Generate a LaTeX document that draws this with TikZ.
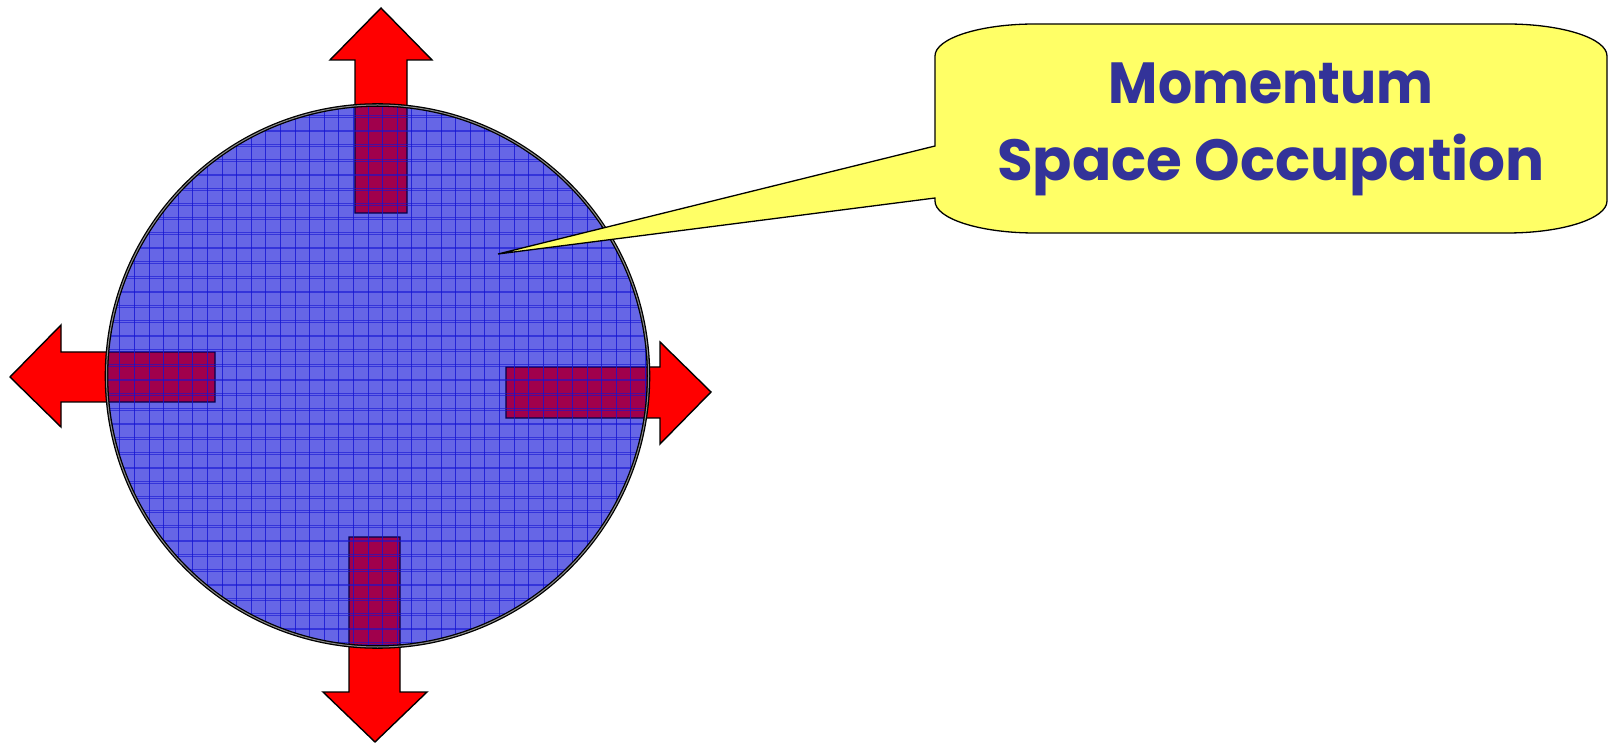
\documentclass[tikz,border=0pt]{standalone}
\usepackage{fontspec}
\newfontfamily\callfont{Poppins}
\definecolor{discblue}{RGB}{102,102,230}
\definecolor{gridblue}{RGB}{20,20,210}
\definecolor{overlap}{RGB}{160,0,76}
\definecolor{calloutyellow}{RGB}{255,255,102}
\definecolor{textblue}{RGB}{51,51,153}
\tikzset{
  arrowshape/.style={fill=red, draw=black, line width=1.4pt, line join=miter},
  overlapshape/.style={fill=overlap, draw=black!70!blue, line width=1.4pt},
  gridline/.style={draw=gridblue, line width=0.7pt, opacity=0.8},
  gridlinelight/.style={draw=gridblue, line width=0.55pt, opacity=0.6},
  discborder/.style={draw=black, line width=1.3pt, double=black!45, double distance=1pt},
  calloutshape/.style={fill=calloutyellow, draw=black, line width=1.3pt, line join=miter},
  callouttext/.style={text=textblue, font=\callfont\bfseries\fontsize{58}{77}\selectfont, align=center},
}
\begin{document}
\begin{tikzpicture}[x=1pt,y=1pt]
\useasboundingbox (0,0) rectangle (1617,745);
% arrows
\def\arrowup{(355,532) -- (355,685) -- (330,685) -- (381,737) -- (432,685) -- (407,685) -- (407,532) -- cycle}
\def\arrowdown{(349,208) -- (349,53) -- (323,53) -- (375,3) -- (427,53) -- (400,53) -- (400,208) -- cycle}
\def\arrowleft{(215,393) -- (61,393) -- (61,420) -- (10,368) -- (61,318) -- (61,343) -- (215,343) -- cycle}
\def\arrowright{(506,378) -- (660,378) -- (660,403) -- (711,353) -- (660,301) -- (660,327) -- (506,327) -- cycle}
\path[arrowshape] \arrowup;
\path[arrowshape] \arrowdown;
\path[arrowshape] \arrowleft;
\path[arrowshape] \arrowright;
% disc
\fill[discblue] (377.5,369) circle[radius=271];
\begin{scope}
  \clip (377.5,369) circle[radius=271];
  \path[overlapshape] \arrowup;
  \path[overlapshape] \arrowdown;
  \path[overlapshape] \arrowleft;
  \path[overlapshape] \arrowright;
  \foreach \i in {6,...,45} {
    \draw[gridline] (2.9+\i*14.6,90) -- (2.9+\i*14.6,650);
  }
  \foreach \i in {-27,...,12} {
    \draw[gridlinelight] (100,483.3+\i*14.65) -- (660,483.3+\i*14.65);
    \draw[gridlinelight] (100,481.6+\i*14.65) -- (660,481.6+\i*14.65);
  }
\end{scope}
\draw[discborder] (377.5,369) circle[radius=271];
% callout
\path[calloutshape] (935,599) -- (935,689)
  arc[start angle=180, end angle=90, x radius=100, y radius=32] -- (1507,721)
  arc[start angle=90, end angle=0, x radius=100, y radius=32] -- (1607,544)
  arc[start angle=0, end angle=-90, x radius=100, y radius=32] -- (1035,512)
  arc[start angle=-90, end angle=-180, x radius=100, y radius=32] -- (935,547)
  -- (498,491) -- cycle;
\node[callouttext, anchor=base] (line1) at (1271,641) {\scalebox{0.925}[1]{Momentum}};
\node[callouttext, anchor=base] (line2) at (1271,564) {Space Occupation};
\end{tikzpicture}
\end{document}
